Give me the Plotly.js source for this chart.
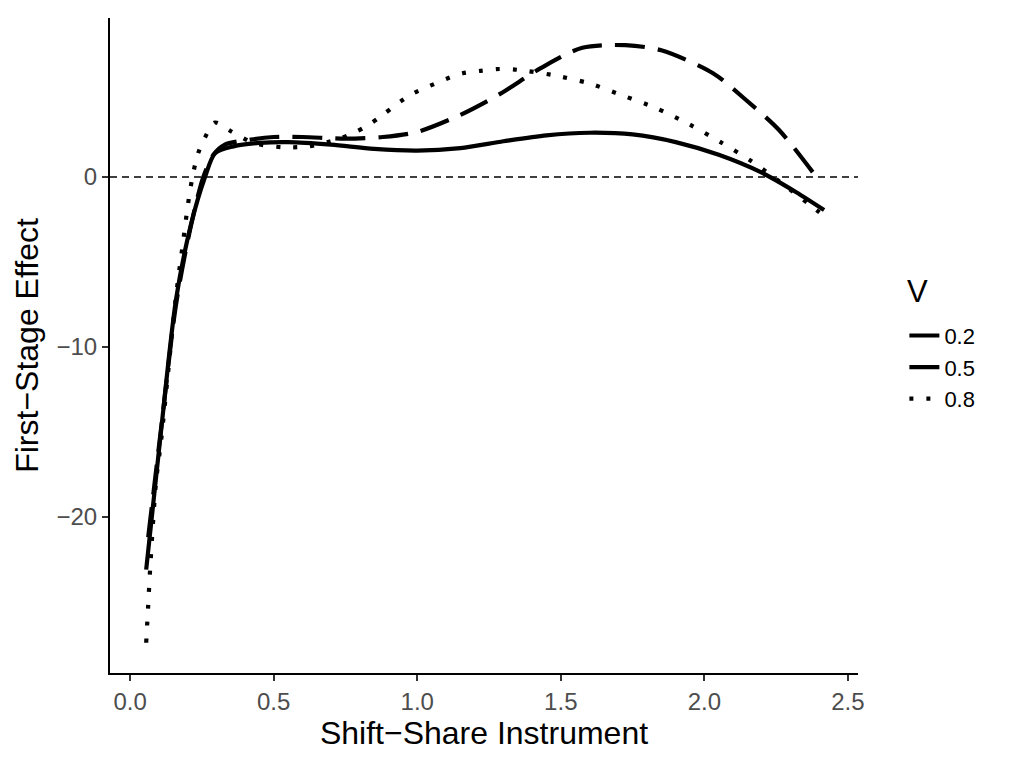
<!DOCTYPE html>
<html>
<head>
<meta charset="utf-8">
<script src="https://cdn.plot.ly/plotly-3.0.1.min.js"></script>
<style>
  body { margin: 0; background: #fff; }
  #chart { width: 1019px; height: 765px; }
</style>
</head>
<body>
<div id="chart"></div>
<script>
// values
var xV02 = [0.063, 0.11, 0.16, 0.21, 0.255, 0.29, 0.33, 0.42, 0.5, 0.6, 0.75, 0.88, 1.0, 1.15, 1.29, 1.43, 1.575, 1.725, 1.85, 2.03, 2.14, 2.26, 2.39];
var yV02 = [-21.2, -14.5, -7.5, -3.0, 0.0, 1.3, 1.9, 2.2, 2.35, 2.35, 2.25, 2.35, 2.65, 3.65, 4.9, 6.4, 7.6, 7.75, 7.45, 6.1, 4.6, 2.76, 0.0];

var xV05 = [0.056, 0.108, 0.16, 0.212, 0.261, 0.296, 0.36, 0.45, 0.55, 0.7, 0.85, 1.0, 1.15, 1.3, 1.45, 1.6, 1.75, 1.9, 2.05, 2.2, 2.32, 2.417];
var yV05 = [-23.1, -14.9, -7.2, -2.8, 0.0, 1.4, 1.8, 2.0, 2.05, 1.9, 1.65, 1.55, 1.7, 2.1, 2.45, 2.6, 2.5, 2.05, 1.3, 0.25, -0.9, -1.95];

var xV08 = [0.056, 0.063, 0.07, 0.09, 0.108, 0.16, 0.184, 0.2, 0.215, 0.235, 0.26, 0.296, 0.35, 0.43, 0.53, 0.62, 0.72, 0.78, 0.83, 0.88, 0.93, 0.984, 1.043, 1.1, 1.158, 1.22, 1.286, 1.35, 1.47, 1.6, 1.714, 1.83, 1.947, 2.055, 2.163, 2.264, 2.364, 2.417];
var yV08 = [-27.4, -25.2, -23.0, -18.0, -15.5, -7.0, -3.9, -1.8, -0.2, 1.3, 2.3, 3.2, 2.7, 2.0, 1.75, 1.8, 2.2, 2.6, 3.06, 3.65, 4.3, 4.9, 5.35, 5.76, 6.1, 6.24, 6.35, 6.3, 6.0, 5.5, 4.8, 4.06, 3.1, 2.06, 0.94, -0.3, -1.6, -2.3];

var names = ['0.2', '0.5', '0.8'];
var xs = [xV02, xV05, xV08];
var ys = [yV02, yV05, yV08];
var dashes = ['30px,13px', 'solid', '4px,13px'];

var fontFam = 'Liberation Sans, Arial, sans-serif';

var data = [];
for (var i = 0; i < names.length; i++) {
    data.push({
        x: xs[i],
        y: ys[i],
        type: 'scatter',
        mode: 'lines',
        name: names[i],
        line: { color: 'black', width: 4.2, dash: dashes[i], shape: 'spline', smoothing: 0.8 }
    });
}

var layout = {
    width: 1019,
    height: 765,
    margin: { l: 110, r: 161, t: 18, b: 92 },
    paper_bgcolor: 'white',
    plot_bgcolor: 'white',
    font: { family: fontFam, color: 'black' },
    showlegend: true,
    xaxis: {
        range: [-0.07, 2.535],
        tickvals: [0, 0.5, 1, 1.5, 2, 2.5],
        ticktext: ['0.0', '0.5', '1.0', '1.5', '2.0', '2.5'],
        ticks: 'outside', ticklen: 6, tickwidth: 2, tickcolor: '#333',
        tickfont: { size: 24, color: '#4d4d4d' },
        showline: true, linecolor: 'black', linewidth: 2.2,
        showgrid: false, zeroline: false,
        title: { text: 'Shift\u2212Share Instrument', font: { size: 32 }, standoff: 4 }
    },
    yaxis: {
        range: [-29.18, 9.35],
        tickvals: [-20, -10, 0],
        ticks: 'outside', ticklen: 6, tickwidth: 2, tickcolor: '#333',
        tickfont: { size: 24, color: '#4d4d4d' },
        showline: true, linecolor: 'black', linewidth: 2.2,
        showgrid: false, zeroline: false,
        title: { text: 'First\u2212Stage Effect', font: { size: 32 }, standoff: 8 }
    },
    legend: {
        x: 1.062, xanchor: 'left',
        y: 0.547, yanchor: 'top',
        font: { size: 22 },
        tracegroupgap: 0
    },
    annotations: [{
        text: 'V', xref: 'paper', yref: 'paper',
        x: 1.063, xanchor: 'left', y: 0.583, yanchor: 'middle',
        showarrow: false, font: { size: 31 }
    }],
    shapes: [{
        type: 'line', xref: 'paper', yref: 'y',
        x0: 0, x1: 1, y0: 0, y1: 0,
        line: { color: 'black', width: 1.5, dash: '7px,5px' }
    }]
};

Plotly.newPlot('chart', data, layout, { displayModeBar: false });
</script>
</body>
</html>
